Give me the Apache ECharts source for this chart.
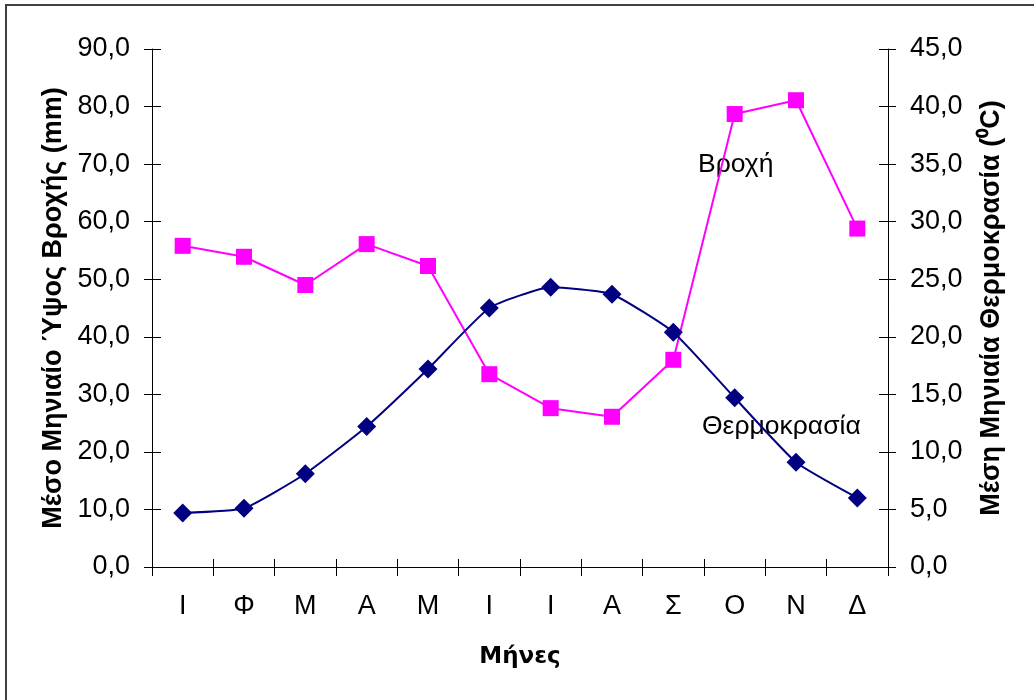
<!DOCTYPE html>
<html>
<head>
<meta charset="utf-8">
<script src="https://cdn.jsdelivr.net/npm/echarts@6/dist/echarts.min.js"></script>
<style>html,body{margin:0;padding:0;background:#fff}#c{width:1034px;height:700px}</style>
</head>
<body>
<div id="c"></div>
<script>
var months = ['Ι','Φ','Μ','Α','Μ','Ι','Ι','Α','Σ','Ο','Ν','Δ'];
var rain = [55.8, 53.9, 49.0, 56.1, 52.3, 33.5, 27.6, 26.1, 36.0, 78.7, 81.1, 58.8];
var temperature = [4.7, 5.1, 8.1, 12.2, 17.2, 22.5, 24.3, 23.7, 20.4, 14.7, 9.1, 6.0];
var rainName = 'Βροχή';
var tempName = 'Θερμοκρασία';
var xTitle = 'Μήνες';
var leftTitle = 'Μέσο Μηνιαίο Ύψος Βροχής (mm)';
var rightTitle = 'Μέση Μηνιαία Θερμοκρασία (⁰C)';

var FONT = 'Liberation Sans, Arial, sans-serif';
var chart = echarts.init(document.getElementById('c'), null, {renderer: 'canvas'});
function fmt(v){ return v.toFixed(1).replace('.', ','); }
var tickStyle = {color: '#000', width: 1};
chart.setOption({
  animation: false,
  backgroundColor: '#fff',
  grid: {left: 152, right: 146, top: 49, bottom: 133, containLabel: false},
  xAxis: [{
    type: 'category', data: months, boundaryGap: true, position: 'bottom',
    axisLine: {lineStyle: {color: '#000', width: 1}},
    axisTick: {show: true, inside: false, length: 9, lineStyle: tickStyle},
    axisLabel: {color: '#000', fontFamily: FONT, fontSize: 27, margin: 26},
    name: xTitle, nameLocation: 'middle', nameGap: 79,
    nameTextStyle: {color: '#000', fontFamily: 'DejaVu Sans, sans-serif', fontWeight: 'bold', fontSize: 23}
  }, {
    type: 'category', data: months, boundaryGap: true, position: 'bottom',
    axisLine: {show: false},
    axisTick: {show: true, inside: true, length: 8, lineStyle: tickStyle},
    axisLabel: {show: false}
  }],
  yAxis: [{
    type: 'value', min: 0, max: 90, interval: 10, position: 'left',
    axisLine: {show: true, lineStyle: {color: '#000', width: 1}},
    axisTick: {show: true, inside: false, length: 8, lineStyle: tickStyle},
    splitLine: {show: false},
    axisLabel: {color: '#000', fontFamily: FONT, fontSize: 27, margin: 22, formatter: fmt},
    name: leftTitle, nameLocation: 'middle', nameGap: 84, nameRotate: 90,
    nameTextStyle: {color: '#000', fontFamily: FONT, fontWeight: 'bold', fontSize: 27}
  }, {
    type: 'value', min: 0, max: 45, interval: 5, position: 'right',
    axisLine: {show: true, lineStyle: {color: '#000', width: 1}},
    axisTick: {show: true, inside: false, length: 8, lineStyle: tickStyle},
    splitLine: {show: false},
    axisLabel: {color: '#000', fontFamily: FONT, fontSize: 27, margin: 22, formatter: fmt},
    name: rightTitle, nameLocation: 'middle', nameGap: 90, nameRotate: 90,
    nameTextStyle: {color: '#000', fontFamily: FONT, fontWeight: 'bold', fontSize: 27}
  }, {
    type: 'value', min: 0, max: 90, interval: 10, position: 'left',
    axisLine: {show: false}, splitLine: {show: false}, axisLabel: {show: false},
    axisTick: {show: true, inside: true, length: 9, lineStyle: tickStyle}
  }, {
    type: 'value', min: 0, max: 45, interval: 5, position: 'right',
    axisLine: {show: false}, splitLine: {show: false}, axisLabel: {show: false},
    axisTick: {show: true, inside: true, length: 9, lineStyle: tickStyle}
  }],
  series: [{
    name: rainName, type: 'line', xAxisIndex: 0, yAxisIndex: 0, data: rain,
    symbol: 'rect', symbolSize: 16, z: 2,
    lineStyle: {color: '#FF00FF', width: 2},
    itemStyle: {color: '#FF00FF'}
  }, {
    name: tempName, type: 'line', xAxisIndex: 0, yAxisIndex: 1, data: temperature,
    symbol: 'diamond', symbolSize: 19, smooth: 0.15, z: 3,
    lineStyle: {color: '#000080', width: 2},
    itemStyle: {color: '#000080'}
  }],
  graphic: [
    {type: 'line', shape: {x1: 6, y1: 5, x2: 6, y2: 700}, style: {stroke: '#404040', lineWidth: 2}},
    {type: 'line', shape: {x1: 5, y1: 5, x2: 1034, y2: 5}, style: {stroke: '#404040', lineWidth: 2}},
    {type: 'text', left: 698, top: 151, style: {text: rainName, fill: '#000', font: '26.5px ' + FONT}},
    {type: 'text', left: 702, top: 413, style: {text: tempName, fill: '#000', font: '26.5px ' + FONT}}
  ]
});
</script>
</body>
</html>
